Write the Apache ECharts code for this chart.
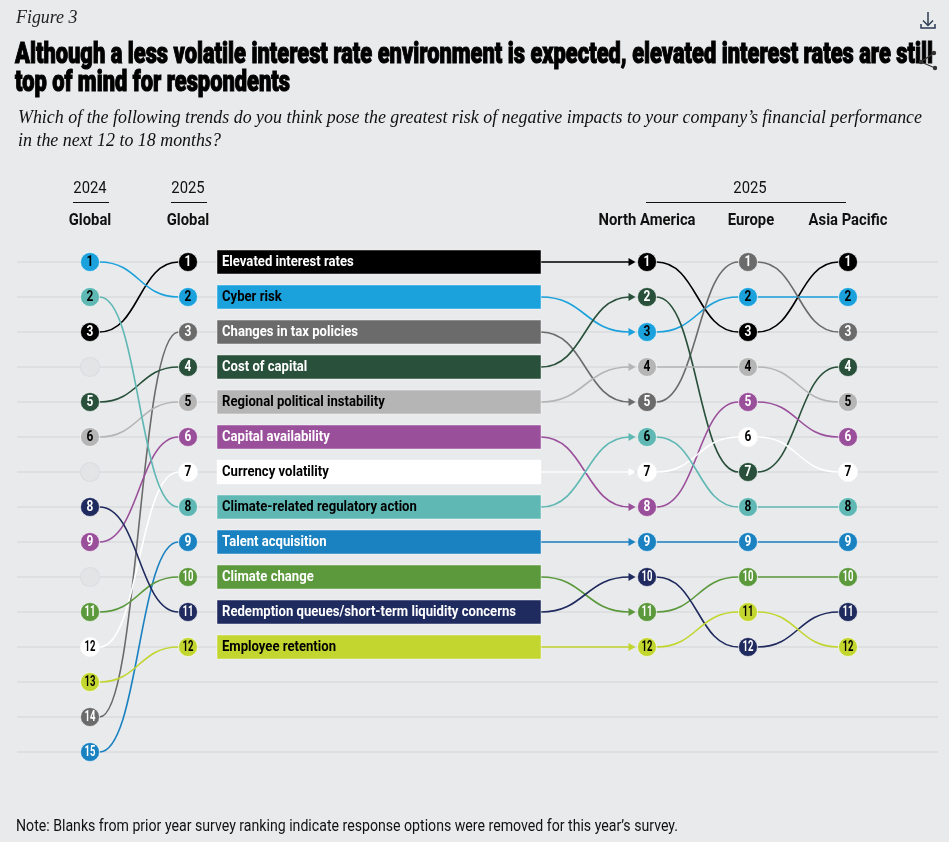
<!DOCTYPE html>
<html><head><meta charset="utf-8">
<script src="https://cdn.jsdelivr.net/npm/echarts@6/dist/echarts.min.js"></script>
<style>html,body{margin:0;padding:0;background:#e9eaec;}#chart{width:949px;height:842px;}</style>
</head><body><div id="chart"></div>
<script>
// ---------- DATA ----------
const categories = [
  'Elevated interest rates',
  'Cyber risk',
  'Changes in tax policies',
  'Cost of capital',
  'Regional political instability',
  'Capital availability',
  'Currency volatility',
  'Climate-related regulatory action',
  'Talent acquisition',
  'Climate change',
  'Redemption queues/short-term liquidity concerns',
  'Employee retention'
];
const rank2024Global = [3, 1, 14, 5, 6, 9, 12, 2, 15, 11, 8, 13];
const rank2025Global = [1, 2, 3, 4, 5, 6, 7, 8, 9, 10, 11, 12];
const rank2025NorthAmerica = [1, 3, 5, 2, 4, 8, 7, 6, 9, 11, 10, 12];
const rank2025Europe = [3, 2, 1, 7, 4, 5, 6, 8, 9, 10, 12, 11];
const rank2025AsiaPacific = [1, 2, 3, 4, 5, 6, 7, 8, 9, 10, 11, 12];
const blankRanks2024 = [4, 7, 10];
const rowRanks = [1, 2, 3, 4, 5, 6, 7, 8, 9, 10, 11, 12, 13, 14, 15];

// ---------- STYLE ----------
const colors = ['#000000', '#1ba1dc', '#6b6b6b', '#28503a', '#b5b5b5', '#9a4f9b',
  '#ffffff', '#5fb8b3', '#1b82c1', '#5b993c', '#1f2a5e', '#c2d62f'];
const textColors = ['#fff', '#000', '#fff', '#fff', '#000', '#fff',
  '#000', '#000', '#fff', '#fff', '#fff', '#000'];
const COL = { y2024: 90, global: 188, boxL: 217, boxR: 541, na: 647, eu: 748, ap: 848, gridL: 17, gridR: 938 };
const R = 9.5;
const BG = '#e9eaec';

const ctx = document.createElement('canvas').getContext('2d');
function measure(text, font) { ctx.font = font; return ctx.measureText(text).width; }

const TITLE_FONT = '900 30px Roboto';
const title1 = 'Although a less volatile interest rate environment is expected, elevated interest rates are still';
const title2 = 'top of mind for respondents';
const titleScale = 918 / measure(title1, TITLE_FONT);
const SUB_FONT = 'italic 19px "Liberation Serif"';
const sub1 = 'Which of the following trends do you think pose the greatest risk of negative impacts to your company\u2019s financial performance';
const sub2 = 'in the next 12 to 18 months?';
const subScale = 904 / measure(sub1, SUB_FONT);
const NOTE_FONT = '16px Roboto';
const note = 'Note: Blanks from prior year survey ranking indicate response options were removed for this year\u2019s survey.';
const noteScale = 662 / measure(note, NOTE_FONT);
const HEAD_FONT_B = 'bold 16px Roboto';
const HEAD_FONT = '16px Roboto';
const headScale = 97 / measure('North America', HEAD_FONT_B);
const BOX_FONT = 'bold 15px Roboto';
const boxScale = 294 / measure(categories[10], BOX_FONT);
const NUM_FONT = 'bold 14px Roboto';

// ---------- BUILD SERIES DATA ----------
const segData = [];
categories.forEach((c, i) => {
  segData.push([COL.y2024 + R, rank2024Global[i], COL.global - R, rank2025Global[i], i, 0]);
  segData.push([COL.boxR, rank2025Global[i], COL.na - R - 8, rank2025NorthAmerica[i], i, 1]);
  segData.push([COL.na + R, rank2025NorthAmerica[i], COL.eu - R, rank2025Europe[i], i, 0]);
  segData.push([COL.eu + R, rank2025Europe[i], COL.ap - R, rank2025AsiaPacific[i], i, 0]);
});
const circleData = [];
categories.forEach((c, i) => {
  circleData.push([COL.y2024, rank2024Global[i], i]);
  circleData.push([COL.global, rank2025Global[i], i]);
  circleData.push([COL.na, rank2025NorthAmerica[i], i]);
  circleData.push([COL.eu, rank2025Europe[i], i]);
  circleData.push([COL.ap, rank2025AsiaPacific[i], i]);
});
const boxData = categories.map((c, i) => [COL.boxL, rank2025Global[i], i]);

const chart = echarts.init(document.getElementById('chart'), null, { renderer: 'canvas' });

function txt(text, x, y, font, fill, align, scale, strokeW) {
  const st = { text: text, font: font, fill: fill, align: align, verticalAlign: 'middle' };
  if (strokeW) { st.stroke = fill; st.lineWidth = strokeW; }
  return { type: 'text', x: x, y: y, scaleX: scale, silent: true, style: st };
}

const graphics = [
  txt('Figure 3', 16, 18, SUB_FONT, '#222', 'left', subScale),
  txt(title1, 15, 55, TITLE_FONT, '#000', 'left', titleScale, 1.1),
  txt(title2, 15, 83, TITLE_FONT, '#000', 'left', titleScale, 1.1),
  txt(sub1, 18, 118, SUB_FONT, '#111', 'left', subScale),
  txt(sub2, 18, 141, SUB_FONT, '#111', 'left', subScale),
  txt(note, 16, 827, NOTE_FONT, '#111', 'left', noteScale),
  txt('2024', COL.y2024, 189, HEAD_FONT, '#111', 'center', headScale),
  txt('2025', COL.global, 189, HEAD_FONT, '#111', 'center', headScale),
  txt('Global', COL.y2024, 221, HEAD_FONT_B, '#111', 'center', headScale),
  txt('Global', COL.global, 221, HEAD_FONT_B, '#111', 'center', headScale),
  txt('2025', 750, 189, HEAD_FONT, '#111', 'center', headScale),
  txt('North America', COL.na, 221, HEAD_FONT_B, '#111', 'center', headScale),
  txt('Europe', 751, 221, HEAD_FONT_B, '#111', 'center', headScale),
  txt('Asia Pacific', COL.ap, 221, HEAD_FONT_B, '#111', 'center', headScale),
  { type: 'line', shape: { x1: 73, y1: 202.5, x2: 109, y2: 202.5 }, style: { stroke: '#111', lineWidth: 1.2 } },
  { type: 'line', shape: { x1: 171, y1: 202.5, x2: 207, y2: 202.5 }, style: { stroke: '#111', lineWidth: 1.2 } },
  { type: 'line', shape: { x1: 646, y1: 202.5, x2: 846, y2: 202.5 }, style: { stroke: '#111', lineWidth: 1.2 } },
  // download icon
  { type: 'polyline', shape: { points: [[928, 12], [928, 25]] }, style: { stroke: '#2b3a55', lineWidth: 1.5, fill: null } },
  { type: 'polyline', shape: { points: [[923, 20.5], [928, 25.5], [933, 20.5]] }, style: { stroke: '#2b3a55', lineWidth: 1.5, fill: null } },
  { type: 'polyline', shape: { points: [[921, 24], [921, 28], [935, 28], [935, 24]] }, style: { stroke: '#2b3a55', lineWidth: 1.5, fill: null } },
  // share icon
  { type: 'polyline', shape: { points: [[934, 53], [921, 62], [935, 68]] }, style: { stroke: '#333', lineWidth: 1.2, fill: null } },
  { type: 'circle', shape: { cx: 921, cy: 62, r: 2.2 }, style: { fill: '#333' } },
  { type: 'circle', shape: { cx: 935, cy: 68, r: 2.2 }, style: { fill: '#333' } },
  { type: 'circle', shape: { cx: 934, cy: 53, r: 2.2 }, style: { fill: '#333' } }
];

const option = {
  backgroundColor: BG,
  animation: false,
  grid: { left: 0, right: 0, top: 227, height: 560 },
  xAxis: { type: 'value', min: 0, max: 949, show: false },
  yAxis: { type: 'value', min: 0, max: 16, inverse: true, show: false },
  graphic: graphics,
  series: [
    { // row grid lines
      type: 'custom', clip: false, silent: true, z: 1,
      data: rowRanks.map(r => [COL.gridL, r]),
      renderItem: function (params, api) {
        const a = api.coord([COL.gridL, api.value(1)]);
        const b = api.coord([COL.gridR, api.value(1)]);
        return { type: 'line', shape: { x1: a[0], y1: a[1], x2: b[0], y2: b[1] },
          style: { stroke: '#dadbde', lineWidth: 1.5 } };
      }
    },
    { // connectors
      type: 'custom', clip: false, silent: true, z: 2,
      data: segData,
      renderItem: function (params, api) {
        const p0 = api.coord([api.value(0), api.value(1)]);
        const p1 = api.coord([api.value(2), api.value(3)]);
        const i = api.value(4);
        const arrow = api.value(5) === 1;
        const dx = (p1[0] - p0[0]) * 0.5;
        const children = [{
          type: 'bezierCurve',
          shape: { x1: p0[0], y1: p0[1], x2: p1[0], y2: p1[1], cpx1: p0[0] + dx, cpy1: p0[1], cpx2: p1[0] - dx, cpy2: p1[1] },
          style: { stroke: colors[i], lineWidth: 1.6, fill: null }
        }];
        if (arrow) {
          children.push({ type: 'polygon',
            shape: { points: [[p1[0] - 1, p1[1] - 4], [p1[0] + 6, p1[1]], [p1[0] - 1, p1[1] + 4]] },
            style: { fill: colors[i] } });
        }
        return { type: 'group', children: children };
      }
    },
    { // label boxes
      type: 'custom', clip: false, silent: true, z: 3,
      data: boxData,
      renderItem: function (params, api) {
        const a = api.coord([COL.boxL, api.value(1)]);
        const b = api.coord([COL.boxR, api.value(1)]);
        const i = api.value(2);
        return { type: 'group', children: [
          { type: 'rect', shape: { x: a[0], y: a[1] - 12, width: b[0] - a[0], height: 24 },
            style: { fill: colors[i], stroke: 'rgba(255,255,255,0.45)', lineWidth: 1 } },
          txt(categories[i], a[0] + 5, a[1] + 0.5, BOX_FONT, textColors[i], 'left', boxScale)
        ] };
      }
    },
    { // blank circles 2024
      type: 'custom', clip: false, silent: true, z: 4,
      data: blankRanks2024.map(r => [COL.y2024, r]),
      renderItem: function (params, api) {
        const p = api.coord([api.value(0), api.value(1)]);
        return { type: 'circle', shape: { cx: p[0], cy: p[1], r: R },
          style: { fill: '#e3e4e6', stroke: '#dcdde0', lineWidth: 1.2 } };
      }
    },
    { // rank circles
      type: 'custom', clip: false, silent: true, z: 5,
      data: circleData,
      renderItem: function (params, api) {
        const p = api.coord([api.value(0), api.value(1)]);
        const i = api.value(2);
        const rank = api.value(1);
        return { type: 'group', children: [
          { type: 'circle', shape: { cx: p[0], cy: p[1], r: R },
            style: { fill: colors[i], stroke: 'rgba(255,255,255,0.6)', lineWidth: 1 } },
          txt(String(rank), p[0], p[1] + 0.5, NUM_FONT, textColors[i], 'center', rank >= 10 ? 0.68 : 0.85)
        ] };
      }
    }
  ]
};
chart.setOption(option);
</script></body></html>
